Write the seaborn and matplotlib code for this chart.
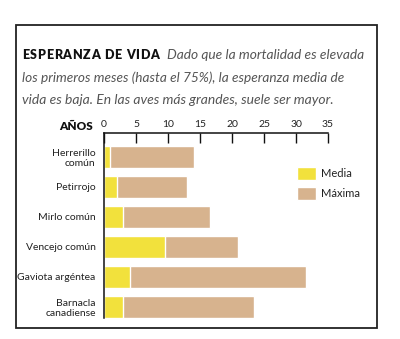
import matplotlib
matplotlib.use("Agg")
import matplotlib.pyplot as plt
import matplotlib.patches as mpatches
import seaborn as sns
import pandas as pd

# ---- data ----
categories = ["Herrerillo\ncomún", "Petirrojo", "Mirlo común", "Vencejo común",
              "Gaviota argéntea", "Barnacla\ncanadiense"]
media = [1, 2, 3, 9.5, 4, 3]
maxima = [14, 13, 16.5, 21, 31.5, 23.5]
xticks = [0, 5, 10, 15, 20, 25, 30, 35]
series_labels = ["Media", "Máxima"]

title_bold = "ESPERANZA DE VIDA"
title_lines = ["Dado que la mortalidad es elevada",
               "los primeros meses (hasta el 75%), la esperanza media de",
               "vida es baja. En las aves más grandes, suele ser mayor."]

YELLOW = "#F2E13C"
TAN = "#D7B38E"

sns.set_theme(style="white")
plt.rcParams['font.family'] = ['Lato', 'DejaVu Sans']

W, H = 400, 339
fig = plt.figure(figsize=(W / 100, H / 100), dpi=100)
fig.patch.set_facecolor("white")
R = fig.canvas.get_renderer()


def fx(x):
    return x / W


def fy(y):
    return 1 - y / H


def fit_text(x0, x1, y, s, size=9, **kw):
    t = fig.text(fx(x0), fy(y), s, ha="left", va="baseline", fontsize=size, **kw)
    w = t.get_window_extent(R).width
    t.set_fontsize(size * (x1 - x0) / w)
    return t


def spaced_text(x0, x1, y, s, size=9, **kw):
    texts, widths = [], []
    for ch in s:
        t = fig.text(0, fy(y), ch, ha="left", va="baseline", fontsize=size, **kw)
        w = t.get_window_extent(R).width if ch != " " else size * 0.35
        texts.append(t)
        widths.append(w)
    total = sum(widths)
    gap = ((x1 - x0) - total) / max(len(s) - 1, 1)
    cur = x0
    for t, w in zip(texts, widths):
        t.set_x(fx(cur))
        cur += w + gap


# frame
fig.patches.append(mpatches.Rectangle((fx(16), fy(328)), (377 - 16) / W, (328 - 25) / H,
                                      transform=fig.transFigure, fill=False,
                                      lw=1.3, ec="#222222"))

# title text
spaced_text(22, 159, 59, title_bold, size=9, weight="heavy", color="#111111")
fit_text(167, 364, 59, title_lines[0], style="italic", color="#555555")
fit_text(22, 344, 82, title_lines[1], style="italic", color="#555555")
fit_text(22, 333, 104, title_lines[2], style="italic", color="#555555")

# axes
ax = fig.add_axes([fx(104), fy(318), (328 - 104) / W, (318 - 133) / H])
df = pd.DataFrame({"cat": categories, "media": media, "maxima": maxima})
sns.barplot(data=df, y="cat", x="maxima", color=TAN, saturation=1, width=0.75,
            ax=ax, label=series_labels[1], orient="h")
sns.barplot(data=df, y="cat", x="media", color=YELLOW, saturation=1, width=0.75,
            ax=ax, label=series_labels[0], orient="h")
ax.set_xlim(0, 35)
ax.set_ylim(5.37, -0.8)
ax.set_xlabel("")
ax.set_ylabel("")
ax.xaxis.tick_top()
ax.set_xticks(xticks)
ax.set_xticklabels([str(v) for v in xticks])
ax.tick_params(axis="x", direction="in", length=7.2, width=1, color="#111111",
               pad=3, labelsize=7.5, labelcolor="#222222")
ax.tick_params(axis="y", length=0, pad=6, labelsize=7.5, labelcolor="#222222")
for side in ["right", "bottom"]:
    ax.spines[side].set_visible(False)
for side in ["top", "left"]:
    ax.spines[side].set_color("#111111")
    ax.spines[side].set_linewidth(1.1)
ax.set_facecolor("white")

fig.text(fx(93), fy(126), "AÑOS", ha="right", va="center", fontsize=8.5,
         weight="heavy", color="#111111")

h, l = ax.get_legend_handles_labels()
order = [l.index(series_labels[0]), l.index(series_labels[1])]
leg = ax.legend([h[i] for i in order], [l[i] for i in order], loc="upper left",
                bbox_to_anchor=(fx(297), fy(167)), bbox_transform=fig.transFigure,
                frameon=False, borderpad=0, borderaxespad=0, fontsize=8,
                handlelength=1.7, handleheight=1.45, labelspacing=0.6,
                handletextpad=0.45)
for t in leg.get_texts():
    t.set_color("#222222")

fig.savefig("out.png", dpi=100, facecolor="white")
